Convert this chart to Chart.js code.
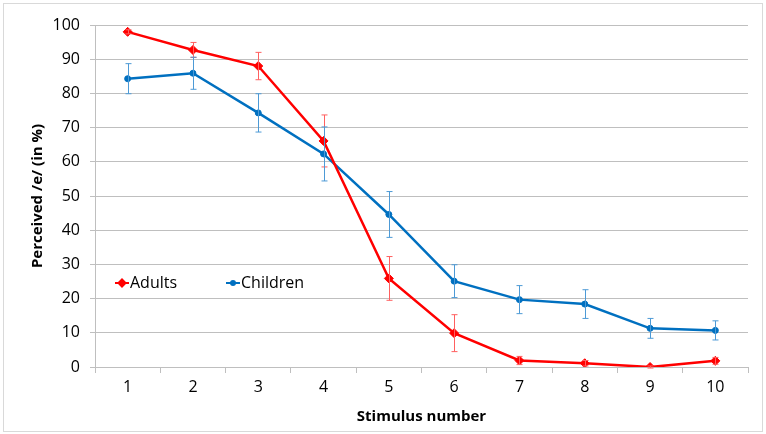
<!DOCTYPE html>
<html lang="en">
<head>
  <meta charset="UTF-8">
  <title>Perceived /e/ by stimulus</title>
  <script src="https://cdn.jsdelivr.net/npm/chart.js"></script>
  <style>
    html, body {
      margin: 0;
      padding: 0;
      background: #ffffff;
    }
    .chart-container {
      width: 766px;
      height: 434px;
      position: relative;
    }
  </style>
</head>
<body>

  <div class="chart-container">
    <canvas id="perceptionChart"></canvas>
  </div>

  <script>
    const stimuli = ['1', '2', '3', '4', '5', '6', '7', '8', '9', '10'];
    const adults = [98, 92.7, 88, 66.1, 25.9, 9.9, 1.9, 1.1, 0, 1.8];
    const adultsErr = [0.6, 2.2, 4.0, 7.6, 6.4, 5.4, 1.2, 0.8, 0.3, 1.0];
    const children = [84.3, 85.9, 74.3, 62.3, 44.6, 25.1, 19.7, 18.4, 11.3, 10.7];
    const childrenErr = [4.4, 4.7, 5.6, 7.9, 6.7, 4.8, 4.1, 4.2, 2.9, 2.8];
    const yTicks = [0, 10, 20, 30, 40, 50, 60, 70, 80, 90, 100];

    const FONT = '"Open Sans", Lato, sans-serif';
    const RED = '#ff0000';
    const BLUE = '#0070c0';

    // error bars, drawn through the y scale
    const errorBars = {
      id: 'errorBars',
      afterDatasetsDraw(chart) {
        const ctx = chart.ctx;
        const y = chart.scales.y;
        chart.data.datasets.forEach((ds, i) => {
          const meta = chart.getDatasetMeta(i);
          ctx.save();
          ctx.strokeStyle = ds.errColor;
          ctx.lineWidth = 1;
          meta.data.forEach((pt, j) => {
            const v = ds.data[j], e = ds.errors[j];
            const top = y.getPixelForValue(v + e);
            const bot = y.getPixelForValue(v - e);
            const x = Math.round(pt.x) + 0.5;
            ctx.beginPath();
            ctx.moveTo(x, top); ctx.lineTo(x, bot);
            ctx.moveTo(x - 3, top); ctx.lineTo(x + 3, top);
            ctx.moveTo(x - 3, bot); ctx.lineTo(x + 3, bot);
            ctx.stroke();
          });
          ctx.restore();
        });
      }
    };

    // legend inside the plot plus the outer frame
    const insideLegend = {
      id: 'insideLegend',
      afterDraw(chart) {
        const ctx = chart.ctx;
        const area = chart.chartArea;
        const ly = 283;
        const entries = [
          { ds: chart.data.datasets[0], x: area.left + 20 },
          { ds: chart.data.datasets[1], x: area.left + 131 }
        ];
        ctx.save();
        entries.forEach(en => {
          ctx.strokeStyle = en.ds.borderColor;
          ctx.lineWidth = 2;
          ctx.beginPath();
          ctx.moveTo(en.x, ly); ctx.lineTo(en.x + 14, ly);
          ctx.stroke();
          Chart.helpers.drawPoint(ctx, {
            pointStyle: en.ds.pointStyle,
            radius: en.ds.pointRadius - 1,
            borderWidth: 1
          }, en.x + 7, ly);
          ctx.fillStyle = en.ds.borderColor;
          ctx.fill();
          ctx.fillStyle = '#000000';
          ctx.font = '16px ' + FONT;
          ctx.textBaseline = 'middle';
          ctx.fillText(en.ds.label, en.x + 15, ly);
        });
        ctx.strokeStyle = '#d9d9d9';
        ctx.lineWidth = 1;
        ctx.strokeRect(3.5, 3.5, 759, 428);
        ctx.restore();
      }
    };

    const ctx = document.getElementById('perceptionChart').getContext('2d');

    new Chart(ctx, {
      type: 'line',
      data: {
        labels: stimuli,
        datasets: [
          {
            label: 'Adults',
            data: adults,
            errors: adultsErr,
            errColor: '#ff6060',
            borderColor: RED,
            backgroundColor: RED,
            borderWidth: 2.5,
            pointStyle: 'rectRot',
            pointRadius: 4.5,
            pointBorderWidth: 1,
            tension: 0
          },
          {
            label: 'Children',
            data: children,
            errors: childrenErr,
            errColor: '#4d9ad6',
            borderColor: BLUE,
            backgroundColor: BLUE,
            borderWidth: 2.5,
            pointStyle: 'circle',
            pointRadius: 3,
            pointBorderWidth: 1,
            tension: 0
          }
        ]
      },
      options: {
        responsive: true,
        maintainAspectRatio: false,
        animation: false,
        layout: {
          padding: { left: 4, right: 18, top: 25, bottom: 0 }
        },
        plugins: {
          legend: { display: false },
          tooltip: { enabled: false },
          title: { display: false }
        },
        scales: {
          x: {
            offset: true,
            afterFit: (scale) => { scale.height = 67; },
            grid: {
              offset: true,
              drawOnChartArea: false,
              drawTicks: true,
              tickLength: 6,
              color: '#bfbfbf'
            },
            border: { color: '#bfbfbf' },
            ticks: {
              color: '#000000',
              padding: 5,
              font: { family: FONT, size: 16 }
            },
            title: {
              display: true,
              text: 'Stimulus number',
              color: '#000000',
              padding: { top: 4, bottom: 8 },
              font: { family: FONT, size: 15, weight: 'bold' }
            }
          },
          y: {
            min: 0,
            max: 100,
            afterFit: (scale) => { scale.width = 91; },
            afterBuildTicks: (scale) => {
              scale.ticks = yTicks.map(v => ({ value: v }));
            },
            grid: {
              color: '#bfbfbf',
              drawTicks: true,
              tickLength: 5
            },
            border: { color: '#bfbfbf' },
            ticks: {
              color: '#000000',
              padding: 10,
              font: { family: FONT, size: 16 }
            },
            title: {
              display: true,
              text: 'Perceived /e/ (in %)',
              color: '#000000',
              padding: { top: 25, bottom: 0 },
              font: { family: FONT, size: 15, weight: 'bold' }
            }
          }
        }
      },
      plugins: [errorBars, insideLegend]
    });
  </script>

</body>
</html>
